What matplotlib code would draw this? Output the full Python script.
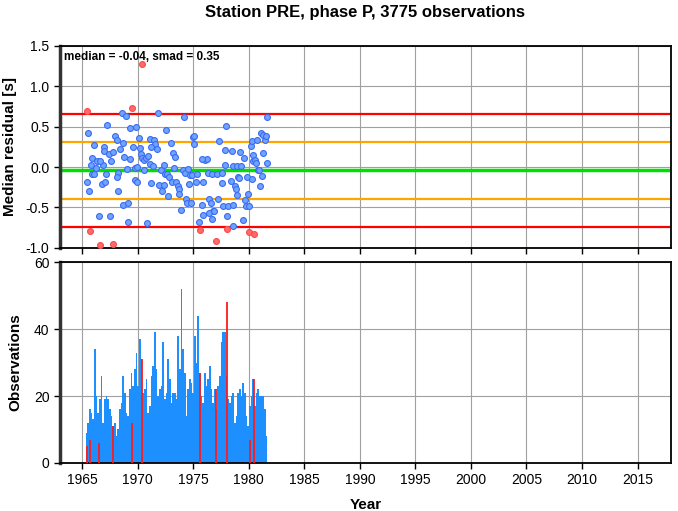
import numpy as np
import matplotlib
matplotlib.use('Agg')
import matplotlib.pyplot as plt

plt.rcParams['font.family'] = ['Liberation Sans', 'DejaVu Sans']

# --- data ---
blue_year = [1965.54, 1965.40, 1965.63, 1966.05, 1965.90, 1965.78, 1965.85, 1966.30, 1966.21, 1966.08,
             1966.50, 1966.75, 1966.84, 1966.59, 1966.93, 1966.98, 1967.25, 1967.14, 1967.07, 1967.50,
             1967.38, 1967.61, 1967.79, 1967.97, 1968.13, 1968.19, 1968.10, 1968.24, 1968.40, 1968.64,
             1968.55, 1968.94, 1968.67, 1968.76, 1969.00, 1969.14, 1969.09, 1969.30, 1969.32, 1969.59,
             1969.81, 1969.77, 1969.95, 1969.75, 1969.95, 1970.08, 1970.20, 1970.26, 1970.35, 1970.56,
             1970.59, 1970.80, 1970.77, 1970.95, 1971.10, 1971.46, 1971.55, 1971.16, 1971.70, 1971.16,
             1971.07, 1971.34, 1971.79, 1971.88, 1972.09, 1972.15, 1972.36, 1972.39, 1972.54, 1972.45,
             1972.63, 1972.72, 1972.81, 1972.99, 1973.08, 1973.20, 1973.35, 1973.29, 1973.44, 1973.59,
             1973.68, 1973.74, 1973.92, 1974.05, 1974.14, 1974.25, 1974.34, 1974.41, 1974.50, 1974.59,
             1974.79, 1974.70, 1974.91, 1975.00, 1975.06, 1975.06, 1975.24, 1975.31, 1975.49, 1975.76,
             1975.85, 1975.90, 1976.05, 1976.21, 1976.44, 1977.34, 1977.95, 1975.76, 1976.35, 1976.66,
             1977.11, 1976.57, 1976.75, 1976.44, 1976.66, 1977.56, 1977.65, 1977.86, 1978.15, 1978.06,
             1978.46, 1978.40, 1978.55, 1978.60, 1978.76, 1978.85, 1978.96, 1978.91, 1979.05, 1979.21,
             1979.30, 1979.14, 1979.50, 1979.57, 1979.66, 1979.75, 1979.86, 1979.95, 1980.05, 1980.17,
             1980.26, 1980.41, 1980.35, 1980.56, 1980.77, 1980.65, 1980.86, 1981.01, 1981.10, 1981.31,
             1981.46, 1981.55, 1981.61, 1981.67, 1981.25, 1980.95, 1981.16, 1980.26, 1977.86, 1977.56,
             1977.25, 1976.89, 1978.60]
blue_res = [0.42, -0.19, -0.29, 0.27, 0.11, 0.02, -0.08, 0.08, -0.01, -0.08,
            -0.60, -0.21, 0.02, 0.07, 0.25, 0.20, 0.52, -0.09, -0.18, -0.61,
            0.16, 0.07, 0.19, 0.39, 0.34, -0.07, -0.12, -0.30, 0.22, 0.30,
            0.67, 0.63, -0.47, 0.12, -0.02, -0.44, -0.68, 0.10, 0.49, 0.25,
            0.50, -0.01, 0.00, -0.16, -0.18, 0.36, 0.24, 0.16, 0.11, 0.09,
            -0.03, -0.69, 0.11, 0.14, 0.35, 0.34, 0.28, 0.25, 0.23, -0.20,
            0.04, 0.01, 0.67, -0.22, -0.03, -0.29, -0.22, 0.02, 0.46, -0.08,
            -0.08, -0.36, -0.12, 0.30, -0.19, 0.18, 0.12, -0.01, -0.19, -0.23,
            -0.27, -0.33, -0.53, -0.03, 0.62, -0.07, -0.40, -0.45, -0.02, -0.21,
            -0.45, -0.10, -0.10, 0.37, 0.39, 0.28, -0.19, -0.08, -0.68, -0.47,
            -0.19, -0.59, 0.09, 0.10, -0.40, 0.32, 0.51, 0.10, -0.07, -0.09,
            -0.08, -0.45, -0.54, -0.57, -0.64, -0.20, -0.48, 0.21, -0.48, -0.61,
            0.20, -0.17, -0.47, 0.01, -0.24, -0.27, 0.01, -0.35, -0.12, 0.19,
            0.01, -0.13, -0.65, 0.11, -0.41, -0.48, -0.12, -0.33, -0.48, 0.26,
            0.32, 0.15, 0.08, 0.09, 0.34, 0.05, -0.03, -0.23, 0.42, 0.40,
            0.34, 0.38, 0.62, 0.05, 0.18, -0.03, -0.11, -0.15, 0.03, -0.07,
            -0.40, -0.54, -0.73]

red_year = [1965.45, 1970.35, 1969.45, 1965.72, 1966.59, 1967.74, 1975.60, 1977.05, 1978.06, 1980.05, 1980.50]
red_res = [0.69, 1.28, 0.73, -0.79, -0.97, -0.95, -0.78, -0.92, -0.77, -0.81, -0.83]

median = -0.04
smad = 0.35

# observation counts, bins of 0.15 yr starting at 1965.39
bin_start = 1965.39
bin_width = 0.15
counts = [9, 12, 16, 15, 13, 34, 20, 15, 19, 26, 12, 19, 20, 19, 16, 14, 11, 12, 8, 10,
          16, 18, 26, 21, 15, 14, 22, 27, 23, 28, 33, 23, 37, 31, 21, 22, 25, 15,
          17, 26, 29, 39, 28, 20, 22, 23, 36, 19, 21, 31, 25, 18, 21, 21, 19, 38, 28, 52,
          34, 27, 14, 22, 25, 24, 21, 38, 30, 44, 27, 20, 18, 27, 23, 25, 29, 22, 18, 22,
          16, 23, 26, 36, 39, 39, 26, 19, 18, 20, 21, 12, 14, 21, 22, 20, 24, 21, 14, 11,
          17, 20, 25, 17, 21, 22, 20, 20, 20, 16, 8]

red_bar_year = [1965.45, 1965.72, 1966.53, 1967.74, 1969.45, 1970.35, 1975.60, 1977.02, 1978.06, 1980.11, 1980.50]
red_bar_count = [5, 7, 6, 11, 12, 31, 27, 22, 48, 7, 25]

title = 'Station PRE, phase P, 3775 observations'

# --- figure ---
fig = plt.figure(figsize=(6.78, 5.11), dpi=100)
ax1 = fig.add_axes([0.0885, 0.515, 0.901, 0.395])
ax2 = fig.add_axes([0.0885, 0.094, 0.901, 0.393])

xlim = (1963, 2018)
xt = np.arange(1965, 2016, 5)

for ax in (ax1, ax2):
    ax.set_xlim(*xlim)
    ax.set_xticks(xt)
    ax.grid(True, color='#a0a0a0', linewidth=0.8)
    ax.set_axisbelow(True)
    for s in ax.spines.values():
        s.set_linewidth(1.3)
    ax.spines['left'].set_linewidth(2.5)
    ax.spines['left'].set_color('#333333')
    ax.tick_params(direction='out', length=4, width=1, labelsize=10)

# top panel
ax1.set_ylim(-1.0, 1.5)
ax1.set_yticks([-1.0, -0.5, 0.0, 0.5, 1.0, 1.5])
ax1.set_yticklabels([f'{v:.1f}' for v in [-1.0, -0.5, 0.0, 0.5, 1.0, 1.5]])
ax1.tick_params(axis='x', labelbottom=False)
ax1.axhline(median + 2 * smad, color='#ff0000', lw=1.6, zorder=2)
ax1.axhline(median - 2 * smad, color='#ff0000', lw=1.6, zorder=2)
ax1.axhline(median + smad, color='#ffa500', lw=1.6, zorder=2)
ax1.axhline(median - smad, color='#ffa500', lw=1.6, zorder=2)
ax1.axhline(median, color='#00e000', lw=2.5, zorder=2)
ax1.scatter(blue_year, blue_res, s=18, facecolor='#6fa3ff', edgecolor='#3a6cf0', linewidth=0.8, zorder=3)
ax1.scatter(red_year, red_res, s=18, facecolor='#ff6a6a', edgecolor='#ff4a4a', linewidth=0.8, zorder=3)
ax1.text(0.006, 0.975, f'median = {median:.2f}, smad = {smad:.2f}', transform=ax1.transAxes,
         ha='left', va='top', fontsize=8.5, fontweight='bold')
ax1.set_ylabel('Median residual [s]', fontsize=11, fontweight='bold', labelpad=6)
ax1.set_title(title, fontsize=12, fontweight='bold', pad=21)

# bottom panel
edges = bin_start - bin_width / 2 + bin_width * np.arange(len(counts) + 1)
ax2.stairs(counts, edges, fill=True, color='#1e8fff', linewidth=0, zorder=2)
ax2.vlines(red_bar_year, 0, red_bar_count, color='#ff1a1a', linewidth=1.3, zorder=3)
ax2.set_ylim(0, 60)
ax2.set_yticks([0, 20, 40, 60])
ax2.set_ylabel('Observations', fontsize=11, fontweight='bold', labelpad=8)
ax2.set_xlabel('Year', fontsize=11, fontweight='bold', labelpad=8)

fig.savefig('out.png', dpi=100)
